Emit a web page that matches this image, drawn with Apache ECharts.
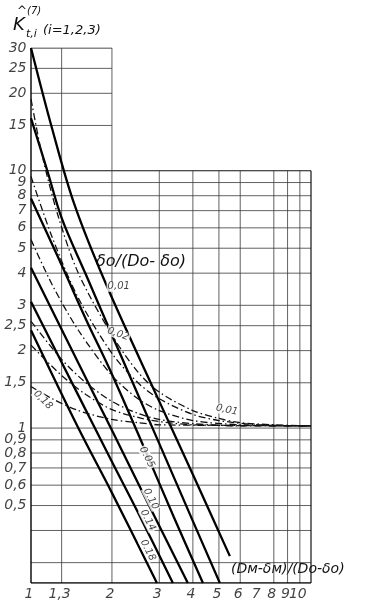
<!DOCTYPE html>
<html><head><meta charset="utf-8">
<script src="https://cdn.jsdelivr.net/npm/echarts@6/dist/echarts.min.js"></script>
<style>html,body{margin:0;padding:0;background:#fff}#c{width:375px;height:611px}</style>
</head><body><div id="c"></div>
<script>
// ---- axis ticks ----
const xTickValues = [1, 1.3, 2, 3, 4, 5, 6, 7, 8, 9, 10];
const xTickLabels = ['1', '1,3', '2', '3', '4', '5', '6', '7', '8', '9', '10'];
const yTickValues = [30, 25, 20, 15, 10, 9, 8, 7, 6, 5, 4, 3, 2.5, 2, 1.5, 1, 0.9, 0.8, 0.7, 0.6, 0.5];
const yTickLabels = ['30', '25', '20', '15', '10', '9', '8', '7', '6', '5', '4', '3', '2,5', '2', '1,5', '1', '0,9', '0,8', '0,7', '0,6', '0,5'];
const hGridUpper = [30, 25, 20, 15];
const hGridLower = [10, 9, 8, 7, 6, 5, 4, 3, 2.5, 2, 1.5, 1, 0.9, 0.8, 0.7, 0.6, 0.5, 0.4, 0.3];
const vGridFull = [1.3, 2];
const vGridLower = [3, 4, 5, 6, 8, 9, 10];
const X_MIN = 1, X_MAX = 11, Y_MIN = 0.25, Y_MAX = 30, X_STEP = 2, Y_STEP = 10;

// ---- solid curves (one per δo/(Do-δo)) ----
const solid001 = [[1, 30], [1.2, 14.5], [1.45, 7.4], [1.92, 3.54], [3, 1.27], [4, 0.66], [5.49, 0.318]];
const solid002 = [[1, 16], [1.15, 10], [1.304, 6.5], [1.6, 3.95], [2, 2.3], [3, 0.87], [4, 0.435], [5.04, 0.25]];
const solid005 = [[1, 7.8], [1.3, 4.3], [1.6, 2.65], [2, 1.62], [2.7, 0.79], [3.4, 0.45], [4.36, 0.25]];
const solid010 = [[1, 4.2], [1.5, 1.79], [2, 0.98], [2.7, 0.52], [3.83, 0.25]];
const solid014 = [[1, 3.1], [1.5, 1.34], [2, 0.74], [2.5, 0.47], [3.37, 0.25]];
const solid018 = [[1, 2.4], [1.5, 1.0], [2, 0.56], [2.94, 0.25]];

// ---- dash-dot curves ----
const dd001 = [[1, 19], [1.1, 11.5], [1.26, 6.7], [1.5, 4.0], [2, 2.3], [2.5, 1.65], [3, 1.38], [4, 1.17], [5, 1.09], [6, 1.05], [8, 1.03], [11, 1.02]];
const dd002 = [[1, 9.5], [1.2, 5.5], [1.5, 3.2], [2, 1.95], [2.5, 1.5], [3, 1.3], [4, 1.13], [5, 1.07], [7, 1.03], [11, 1.02]];
const dd005 = [[1, 5.4], [1.2, 3.6], [1.5, 2.4], [2, 1.6], [2.5, 1.3], [3, 1.17], [4, 1.07], [6, 1.03], [11, 1.02]];
const dd010 = [[1, 2.6], [1.3, 1.85], [1.6, 1.5], [2, 1.27], [2.5, 1.14], [3, 1.08], [4, 1.04], [6, 1.02], [11, 1.02]];
const dd014 = [[1, 2.1], [1.3, 1.6], [1.6, 1.35], [2, 1.18], [2.5, 1.1], [3, 1.06], [4, 1.03], [11, 1.02]];
const dd018 = [[1, 1.45], [1.2, 1.3], [1.5, 1.17], [2, 1.08], [2.5, 1.05], [3, 1.03], [11, 1.02]];

// ---- curve annotation texts and anchors ----
const curveLabelTexts = ['0,01', '0,02', '0.05', '0.10', '0.14', '0.18', '0,01', '0,18'];
const curveLabelAnchors = [[2.12, 3.54], [2.11, 2.32], [2.70, 0.77], [2.79, 0.53], [2.72, 0.438], [2.72, 0.335], [5.35, 1.175], [1.108, 1.285]];
const curveLabelRotations = [0, -20, -63, -63, -63, -63, -12, -45];

const FONT = '"DejaVu Sans", sans-serif';
const series = [];
function seg(data, w, c, z) {
  series.push({ type: 'line', data: data, symbol: 'none', silent: true, animation: false, z: z || 1,
    lineStyle: { color: c || '#3a3a3a', width: w || 0.8 } });
}
hGridUpper.forEach(v => seg([[X_MIN, v], [X_STEP, v]], v === Y_MAX ? 1.2 : 0.8, v === Y_MAX ? '#111' : '#3a3a3a'));
hGridLower.forEach(v => seg([[X_MIN, v], [X_MAX, v]], v === Y_STEP ? 1.2 : 0.8, v === Y_STEP ? '#111' : '#3a3a3a'));
vGridFull.forEach(v => seg([[v, Y_MIN], [v, Y_MAX]], 0.8));
vGridLower.forEach(v => seg([[v, Y_MIN], [v, Y_STEP]], 0.8));
seg([[X_MIN, Y_MIN], [X_MIN, Y_MAX]], 1.4, '#000', 2);
seg([[X_MIN, Y_MIN], [X_MAX, Y_MIN]], 1.4, '#000', 2);
seg([[X_MAX, Y_MIN], [X_MAX, Y_STEP]], 1.2, '#111', 2);

[solid001, solid002, solid005, solid010, solid014, solid018].forEach(d => {
  series.push({ type: 'line', data: d, symbol: 'none', smooth: 0.35, silent: true, animation: false, z: 3,
    lineStyle: { color: '#000', width: 2.3 } });
});
[dd001, dd002, dd005, dd010, dd014, dd018].forEach(d => {
  series.push({ type: 'line', data: d, symbol: 'none', smooth: 0.3, silent: true, animation: false, z: 3,
    lineStyle: { color: '#111', width: 1.3, type: [7, 3, 1.5, 3] } });
});

// tick labels
series.push({ type: 'scatter', silent: true, animation: false, symbolSize: 1, itemStyle: { color: 'rgba(0,0,0,0)' }, z: 5,
  data: yTickValues.map((v, i) => ({ value: [X_MIN, v], name: yTickLabels[i] })),
  label: { show: true, position: 'left', distance: 4, formatter: p => p.name, color: '#111', fontFamily: FONT, fontStyle: 'italic', fontSize: 14 } });
series.push({ type: 'scatter', silent: true, animation: false, symbolSize: 1, itemStyle: { color: 'rgba(0,0,0,0)' }, z: 5,
  data: xTickValues.map((v, i) => ({ value: [v, Y_MIN], name: xTickLabels[i] })),
  label: { show: true, position: 'bottom', distance: 4, offset: [-2, 0], formatter: p => p.name, color: '#111', fontFamily: FONT, fontStyle: 'italic', fontSize: 14 } });
// curve labels
series.push({ type: 'scatter', silent: true, animation: false, symbolSize: 1, itemStyle: { color: 'rgba(0,0,0,0)' }, z: 6,
  data: curveLabelAnchors.map((a, i) => ({ value: a, name: curveLabelTexts[i],
    label: { rotate: curveLabelRotations[i] } })),
  label: { show: true, position: 'inside', formatter: p => p.name, color: '#111', fontFamily: FONT, fontStyle: 'italic', fontSize: 10,
    backgroundColor: '#fff', padding: [0, 1] } });

const chart = echarts.init(document.getElementById('c'), null, { renderer: 'canvas' });
chart.setOption({
  backgroundColor: '#fff',
  animation: false,
  grid: { left: 31, right: 64, top: 48, bottom: 28, containLabel: false },
  xAxis: { type: 'log', logBase: 10, min: X_MIN, max: X_MAX, axisLine: { show: false }, axisTick: { show: false }, axisLabel: { show: false }, splitLine: { show: false } },
  yAxis: { type: 'log', logBase: 10, min: Y_MIN, max: Y_MAX, axisLine: { show: false }, axisTick: { show: false }, axisLabel: { show: false }, splitLine: { show: false } },
  graphic: [
    { type: 'text', left: 13, top: 16, style: { text: 'K', font: 'italic 18px ' + FONT, fill: '#111' } },
    { type: 'text', left: 17, top: 6, style: { text: '^', font: '12px ' + FONT, fill: '#111' } },
    { type: 'text', left: 27, top: 6, style: { text: '(7)', font: 'italic 10px ' + FONT, fill: '#111' } },
    { type: 'text', left: 26, top: 29, style: { text: 't,i', font: 'italic 11px ' + FONT, fill: '#111' } },
    { type: 'text', left: 43, top: 24, style: { text: '(i=1,2,3)', font: 'italic 13px ' + FONT, fill: '#111' } },
    { type: 'text', left: 96, top: 254, style: { text: 'δo/(Do- δo)', font: 'italic 16px ' + FONT, fill: '#111' } },
    { type: 'text', left: 231, top: 562, style: { text: '(Dм-δм)/(Do-δo)', font: 'italic 14px ' + FONT, fill: '#111' } }
  ],
  series: series
});
</script></body></html>
